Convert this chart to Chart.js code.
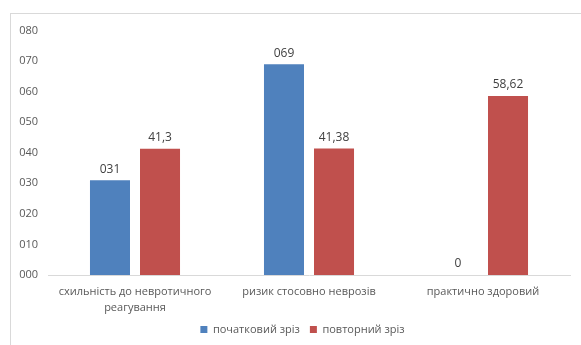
<!DOCTYPE html>
<html>
<head>
<meta charset="utf-8">
<script src="https://cdn.jsdelivr.net/npm/chart.js@4.4.1/dist/chart.umd.min.js"></script>
<style>
    body { margin: 0; background: #ffffff; }
    #frame {
        position: absolute;
        left: 10px;
        top: 13px;
        width: 571px;
        height: 332px;
        border-left: 1px solid #d9d9d9;
        border-top: 1px solid #d9d9d9;
    }
</style>
</head>
<body>
<div id="frame">
    <canvas id="chart" width="570" height="331"></canvas>
</div>
<script>

// Categories
const categories = [
    ["схильність до невротичного", "реагування"],
    "ризик стосовно неврозів",
    "практично здоровий"
];

// Series
const firstCut = [31, 69, 0];
const secondCut = [41.3, 41.38, 58.62];

// Value labels as printed on the chart
const firstCutLabels = ["031", "069", "0"];
const secondCutLabels = ["41,3", "41,38", "58,62"];

// Y tick labels
const yTickLabels = ["000", "010", "020", "030", "040", "050", "060", "070", "080"];

const textColor = "#595959";
const fontFamily = "'Open Sans', sans-serif";

// Value labels above the bars
const barLabels = {
    id: "barLabels",
    afterDatasetsDraw(chart) {
        const ctx = chart.ctx;
        const labelSets = [firstCutLabels, secondCutLabels];
        ctx.save();
        ctx.font = "12px " + fontFamily;
        ctx.fillStyle = "#404040";
        ctx.textAlign = "center";
        ctx.textBaseline = "bottom";
        chart.data.datasets.forEach(function (ds, i) {
            chart.getDatasetMeta(i).data.forEach(function (bar, j) {
                ctx.fillText(labelSets[i][j], bar.x, bar.y - 5);
            });
        });
        ctx.restore();
    }
};

// legend sits a little right of the canvas centre in the original
const legendShift = {
    id: "legendShift",
    afterUpdate(chart) {
        chart.legend.left += 12;
        chart.legend.right += 12;
    }
};

new Chart(document.getElementById("chart"), {
    type: "bar",
    data: {
        labels: categories,
        datasets: [{
            label: "початковий зріз",
            data: firstCut,
            backgroundColor: "#4f81bd",
            barPercentage: 0.8,
            categoryPercentage: 0.575
        }, {
            label: "повторний зріз",
            data: secondCut,
            backgroundColor: "#c0504d",
            barPercentage: 0.8,
            categoryPercentage: 0.575
        }]
    },
    options: {
        responsive: false,
        animation: false,
        layout: {
            padding: { top: 14, right: 11, left: 0, bottom: 0 }
        },
        scales: {
            x: {
                grid: { display: false, drawTicks: false },
                border: { display: true, color: "#d9d9d9" },
                ticks: {
                    color: textColor,
                    font: { family: fontFamily, size: 11, lineHeight: 1.45 },
                    padding: 9,
                    maxRotation: 0
                },
                afterFit: function (scale) { scale.height = 39; }
            },
            y: {
                min: 0,
                max: 80,
                grid: { display: false, drawTicks: false },
                border: { display: false },
                ticks: {
                    stepSize: 10,
                    color: textColor,
                    font: { family: fontFamily, size: 11 },
                    padding: 10,
                    callback: function (value) { return yTickLabels[value / 10]; }
                },
                afterFit: function (scale) { scale.width = 37; }
            }
        },
        plugins: {
            legend: {
                position: "bottom",
                labels: {
                    boxWidth: 7,
                    boxHeight: 7,
                    padding: 10,
                    color: textColor,
                    font: { family: fontFamily, size: 11 }
                }
            },
            tooltip: { enabled: false }
        }
    },
    plugins: [barLabels, legendShift]
});
</script>
</body>
</html>
